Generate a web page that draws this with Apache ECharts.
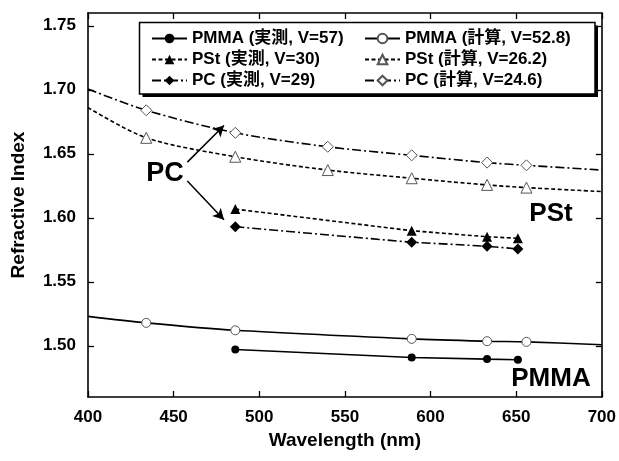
<!DOCTYPE html>
<html>
<head>
<meta charset="utf-8">
<script src="https://cdn.jsdelivr.net/npm/echarts@6/dist/echarts.min.js"></script>
<style>
  html, body { margin: 0; padding: 0; background: #fff; }
  #chart { width: 619px; height: 461px; }
</style>
</head>
<body>
<div id="chart"></div>
<script>
(function () {
    'use strict';

    //data
    var yTicks = [1.50, 1.55, 1.60, 1.65, 1.70, 1.75];
    var edgeWl = [400, 700];

    // 実測
    var measWl = [486, 589, 633, 651];
    var pmmaMeas = [1.4971, 1.4909, 1.4896, 1.4891];
    var pstMeas = [1.6068, 1.5899, 1.5852, 1.5840];
    var pcMeas = [1.5930, 1.5809, 1.5778, 1.5757];

    // 計算 (curve ends at 400 / 700 nm)
    var pmmaCalcWl = [434, 486, 589, 633, 656];
    var pmmaCalc = [1.5179, 1.5121, 1.5054, 1.5036, 1.5031];
    var pmmaEdge = [1.5230, 1.5008];
    var pstCalcWl = [434, 486, 540, 589, 633, 656];
    var pstCalc = [1.6625, 1.6477, 1.6373, 1.6309, 1.6257, 1.6236];
    var pstEdge = [1.6861, 1.6205];
    var pcCalcWl = [434, 486, 540, 589, 633, 656];
    var pcCalc = [1.6840, 1.6664, 1.6555, 1.6488, 1.6431, 1.6410];
    var pcEdge = [1.7006, 1.6373];

    // PC arrows
    var arrowFrom = [[458, 1.6435], [458, 1.6288]];
    var arrowTo = [[479.4, 1.6721], [479.4, 1.5984]];

    var names = {
        pmmaMeas: 'PMMA (実測, V=57)',
        pstMeas: 'PSt (実測, V=30)',
        pcMeas: 'PC (実測, V=29)',
        pmmaCalc: 'PMMA (計算, V=52.8)',
        pstCalc: 'PSt (計算, V=26.2)',
        pcCalc: 'PC (計算, V=24.6)'
    };

    var font = '"Liberation Sans", "Noto Sans CJK JP", sans-serif';
    var dashDot = [9, 3, 2, 3];
    var dashed = [4, 2.5];

    function measData(vals) {
        return measWl.map(function (w, i) { return [w, vals[i]]; });
    }

    function calcData(wl, vals, edge) {
        var d = [{value: [edgeWl[0], edge[0]], symbol: 'none'}];
        wl.forEach(function (w, i) { d.push([w, vals[i]]); });
        d.push({value: [edgeWl[1], edge[1]], symbol: 'none'});
        return d;
    }

    var openStyle = {color: '#fff', borderColor: '#555', borderWidth: 1};
    var fillStyle = {color: '#000', borderColor: '#000', borderWidth: 0};

    function makeSeries(name, data, symbol, size, itemStyle, dash, smooth) {
        return {
            name: name,
            type: 'line',
            data: data,
            symbol: symbol,
            symbolSize: size,
            showAllSymbol: true,
            smooth: smooth,
            itemStyle: itemStyle,
            lineStyle: {color: '#000', width: 1.6, type: dash},
            emphasis: {disabled: true},
            z: 3
        };
    }

    var series = [
        makeSeries(names.pmmaMeas, measData(pmmaMeas), 'circle', 8, fillStyle, 'solid', false),
        makeSeries(names.pstMeas, measData(pstMeas), 'triangle', 10, fillStyle, dashed, false),
        makeSeries(names.pcMeas, measData(pcMeas), 'diamond', 11, fillStyle, dashDot, false),
        makeSeries(names.pmmaCalc, calcData(pmmaCalcWl, pmmaCalc, pmmaEdge), 'circle', 9, openStyle, 'solid', 0.3),
        makeSeries(names.pstCalc, calcData(pstCalcWl, pstCalc, pstEdge), 'triangle', 11, openStyle, dashed, 0.3),
        makeSeries(names.pcCalc, calcData(pcCalcWl, pcCalc, pcEdge), 'diamond', 11, openStyle, dashDot, 0.3)
    ];

    series[5].markLine = {
        silent: true,
        symbol: ['none', 'arrow'],
        symbolSize: [9, 11],
        label: {show: false},
        lineStyle: {color: '#000', width: 1.5, type: 'solid'},
        data: arrowFrom.map(function (p, i) {
            return [{coord: p}, {coord: arrowTo[i]}];
        })
    };

    var legendText = {color: '#000', fontFamily: font, fontWeight: 'bold', fontSize: 17, lineHeight: 17};

    function legend(data, left) {
        return {
            data: data,
            orient: 'vertical',
            left: left,
            top: 30,
            itemWidth: 35,
            itemHeight: 12,
            itemGap: 4,
            padding: 0,
            selectedMode: false,
            textStyle: legendText,
            z: 10
        };
    }

    var axisLine = {show: true, lineStyle: {color: '#000', width: 1.6}};
    var axisTick = {show: true, inside: true, length: 6, lineStyle: {color: '#000', width: 1.3}};
    var labelStyle = {color: '#000', fontFamily: font, fontWeight: 'bold', fontSize: 17};
    var nameStyle = {color: '#000', fontFamily: font, fontWeight: 'bold', fontSize: 19};

    var option = {
        animation: false,
        backgroundColor: '#fff',
        grid: {left: 88, top: 13, right: 16, bottom: 64},
        legend: [
            legend([names.pmmaMeas, names.pstMeas, names.pcMeas], 151),
            legend([names.pmmaCalc, names.pstCalc, names.pcCalc], 364)
        ],
        xAxis: [{
            type: 'value', min: 400, max: 700, interval: 50, position: 'bottom',
            axisLine: axisLine, axisTick: axisTick, splitLine: {show: false},
            axisLabel: Object.assign({margin: 12}, labelStyle),
            name: 'Wavelength (nm)', nameLocation: 'middle', nameGap: 33,
            nameTextStyle: nameStyle
        }, {
            type: 'value', min: 400, max: 700, interval: 50, position: 'top',
            axisLine: axisLine, axisTick: axisTick, splitLine: {show: false},
            axisLabel: {show: false}
        }],
        yAxis: [{
            type: 'value', min: 1.46, max: 1.76, position: 'left',
            axisLine: axisLine, splitLine: {show: false},
            axisTick: Object.assign({customValues: yTicks}, axisTick),
            axisLabel: Object.assign({
                margin: 12, customValues: yTicks,
                formatter: function (v) { return v.toFixed(2); }
            }, labelStyle),
            name: 'Refractive Index', nameLocation: 'middle', nameGap: 60,
            nameTextStyle: nameStyle
        }, {
            type: 'value', min: 1.46, max: 1.76, position: 'right',
            axisLine: axisLine, splitLine: {show: false},
            axisTick: Object.assign({customValues: yTicks}, axisTick),
            axisLabel: {show: false}
        }],
        graphic: [
            {type: 'rect', z: 5, shape: {x: 142.5, y: 25.5, width: 455.5, height: 71.5}, style: {fill: '#000'}},
            {type: 'rect', z: 6, shape: {x: 139.5, y: 22.5, width: 455.5, height: 71.5},
                style: {fill: '#fff', stroke: '#000', lineWidth: 1.5}},
            {type: 'text', z: 6, x: 165, y: 174,
                style: {text: 'PC', fill: '#000', font: 'bold 27px ' + font, align: 'center', verticalAlign: 'middle'}},
            {type: 'text', z: 6, x: 551, y: 214,
                style: {text: 'PSt', fill: '#000', font: 'bold 26px ' + font, align: 'center', verticalAlign: 'middle'}},
            {type: 'text', z: 6, x: 551, y: 379,
                style: {text: 'PMMA', fill: '#000', font: 'bold 26px ' + font, align: 'center', verticalAlign: 'middle'}}
        ],
        series: series
    };

    var myChart = echarts.init(document.getElementById('chart'));
    myChart.setOption(option);
})();
</script>
</body>
</html>
